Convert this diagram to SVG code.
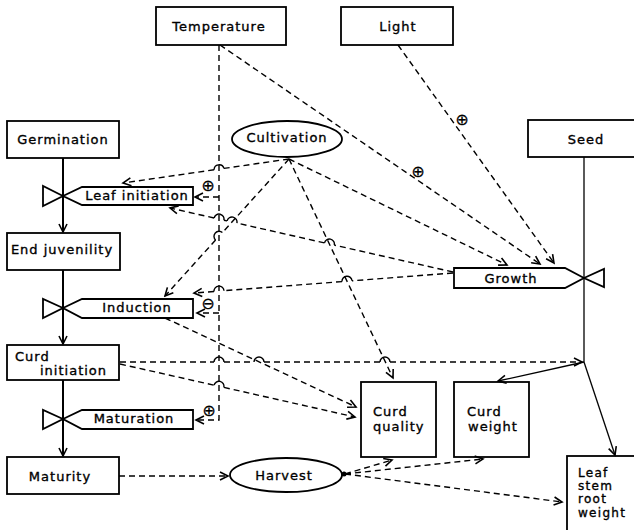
<svg xmlns="http://www.w3.org/2000/svg" width="634" height="530" viewBox="0 0 634 530">
<defs>
<style>
text{font-family:"DejaVu Sans","Liberation Sans",sans-serif;font-size:13px;letter-spacing:1px;fill:#000;stroke:#000;stroke-width:0.35}
.c{text-anchor:middle}
.small{font-size:12px;letter-spacing:1.3px}
.box{fill:#fff;stroke:#000;stroke-width:1.8}
.flow{fill:none;stroke:#000;stroke-width:2}
.dash{fill:none;stroke:#000;stroke-width:1.4;stroke-dasharray:6 4}
.hop{fill:none;stroke:#000;stroke-width:1.4}
.solid{fill:none;stroke:#000;stroke-width:1.3}
.sign{font-size:16px;letter-spacing:0;text-anchor:middle;stroke-width:0.2}
</style>
<marker id="ah" markerWidth="12" markerHeight="12" refX="10" refY="6" orient="auto" markerUnits="userSpaceOnUse">
<path d="M2,2 L10,6 L2,10" fill="none" stroke="#000" stroke-width="1.6"/>
</marker>
</defs>
<rect width="634" height="530" fill="#fff"/>

<!-- external drivers -->
<g id="temperature"><rect class="box" x="156" y="7" width="130" height="38"/><text class="c" x="219" y="31">Temperature</text></g>
<g id="light"><rect class="box" x="341" y="7" width="112" height="38"/><text class="c" x="398" y="31">Light</text></g>
<g id="seed"><rect class="box" x="528" y="120" width="110" height="37"/><text class="c" x="586" y="144">Seed</text></g>

<!-- development stages -->
<g id="germination"><rect class="box" x="7" y="121" width="112" height="37"/><text class="c" x="63" y="144">Germination</text></g>
<g id="end-juvenility"><rect class="box" x="7" y="233" width="113" height="37"/><text class="c" x="62" y="254">End juvenility</text></g>
<g id="curd-initiation"><rect class="box" x="7" y="345" width="112" height="35"/><text x="15" y="361">Curd</text><text x="40" y="375">initiation</text></g>
<g id="maturity"><rect class="box" x="7" y="457" width="112" height="37"/><text class="c" x="60" y="481">Maturity</text></g>

<!-- rates (valves) -->
<g id="leaf-initiation"><polygon class="box" points="63,196 82,187 193,187 193,205 82,205"/><polygon class="box" points="63,196 43,186 43,206"/><text class="c" x="137" y="200">Leaf initiation</text></g>
<g id="induction"><polygon class="box" points="63,308 82,299 193,299 193,318 82,318"/><polygon class="box" points="63,308 43,299 43,318"/><text class="c" x="137" y="312">Induction</text></g>
<g id="maturation"><polygon class="box" points="63,419 82,410 193,410 193,429 82,429"/><polygon class="box" points="63,419 43,410 43,429"/><text class="c" x="134" y="423">Maturation</text></g>
<g id="growth"><polygon class="box" points="584,278 565,268 454,268 454,288 565,288"/><polygon class="box" points="584,278 604,269 604,287"/><text class="c" x="511" y="283">Growth</text></g>

<!-- auxiliaries -->
<g id="cultivation"><ellipse class="box" cx="287" cy="139" rx="55" ry="18"/><text class="c" x="287" y="142">Cultivation</text></g>
<g id="harvest"><ellipse class="box" cx="286" cy="475" rx="56" ry="17"/><text class="c" x="284" y="480">Harvest</text></g>

<!-- outputs -->
<g id="curd-quality"><rect class="box" x="361" y="382" width="75" height="75"/><text x="373" y="416">Curd</text><text x="373" y="431">quality</text></g>
<g id="curd-weight"><rect class="box" x="454" y="382" width="75" height="75"/><text x="467" y="416">Curd</text><text x="468" y="431">weight</text></g>
<g id="leaf-stem-root-weight"><rect class="box" x="567" y="456" width="72" height="76"/><text class="small" x="578" y="477">Leaf</text><text class="small" x="578" y="490">stem</text><text class="small" x="578" y="503">root</text><text class="small" x="578" y="517">weight</text></g>

<g id="connectors">
  <!-- material flows -->
  <path class="flow" d="M63,158 V232" marker-end="url(#ah)"/>
  <path class="flow" d="M63,270 V344" marker-end="url(#ah)"/>
  <path class="flow" d="M63,380 V456" marker-end="url(#ah)"/>
  <path class="solid" d="M584,157 V362"/>
  <path class="solid" d="M584,362 L498,381" marker-end="url(#ah)"/>
  <path class="solid" d="M584,362 L615,455" marker-end="url(#ah)"/>

  <!-- temperature -->
  <path class="dash" d="M219,45 V420 H196" marker-end="url(#ah)"/>
  <path class="dash" d="M219,197 H195" marker-end="url(#ah)"/>
  <path class="dash" d="M219,313 H197" marker-end="url(#ah)"/>
  <path class="dash" d="M220,45 L540,264" marker-end="url(#ah)"/>
  <text class="sign" x="208" y="191">⊕</text>
  <text class="sign" x="208" y="309">⊖</text>
  <text class="sign" x="209" y="416">⊕</text>
  <text class="sign" x="418" y="177">⊕</text>

  <!-- light -->
  <path class="dash" d="M398,45 L554,263" marker-end="url(#ah)"/>
  <text class="sign" x="462" y="125">⊕</text>

  <!-- cultivation -->
  <path class="dash" d="M289,159 L507,265" marker-end="url(#ah)"/>
  <path class="dash" d="M289,159 L393,378" marker-end="url(#ah)"/>
  <path class="dash" d="M289,159 L223.9,168.4 M214.1,169.8 L123,183" marker-end="url(#ah)"/>
  <path class="hop" d="M223.9,168.4 A5,5 0 0 0 214.1,169.8"/>
  <path class="dash" d="M289,159 L222.4,232.6 M215.6,240 L165,296" marker-end="url(#ah)"/>
  <path class="hop" d="M222.4,232.6 A5,5 0 0 0 215.6,240"/>

  <!-- growth feedback -->
  <path class="dash" d="M453,272 L334.3,245.1 M324.5,242.9 L236.9,223.1 M227.1,220.9 L223.9,220.2 M214.1,218 L170,208" marker-end="url(#ah)"/>
  <path class="hop" d="M334.3,245.1 A5,5 0 0 0 324.5,242.9 M236.9,223.1 A5,5 0 0 0 227.1,220.9 M223.9,220.2 A5,5 0 0 0 214.1,218"/>
  <path class="dash" d="M453,273 L352,280.8 M342,281.6 L224,290.7 M214,291.5 L194,293" marker-end="url(#ah)"/>
  <path class="hop" d="M352,280.8 A5,5 0 0 0 342,281.6 M224,290.7 A5,5 0 0 0 214,291.5"/>

  <!-- curd initiation -->
  <path class="dash" d="M120,362 H214 M224,362 H254 M264,362 H380 M390,362 H582" marker-end="url(#ah)"/>
  <path class="hop" d="M214,362 A5,5 0 0 1 224,362 M254,362 A5,5 0 0 1 264,362 M380,362 A5,5 0 0 1 390,362"/>
  <path class="dash" d="M120,364 L214.1,385.2 M223.9,387.4 L355,417" marker-end="url(#ah)"/>
  <path class="hop" d="M214.1,385.2 A5,5 0 0 1 223.9,387.4"/>

  <!-- induction to curd quality -->
  <path class="dash" d="M165,318 L356,407" marker-end="url(#ah)"/>

  <!-- maturity and harvest -->
  <path class="dash" d="M119,476 H228" marker-end="url(#ah)"/>
  <circle cx="344" cy="474" r="2.5" fill="#000"/>
  <path class="dash" d="M345,474 L392,460" marker-end="url(#ah)"/>
  <path class="dash" d="M345,474 L483,459" marker-end="url(#ah)"/>
  <path class="dash" d="M345,474 L562,502" marker-end="url(#ah)"/>
</g>
</svg>
